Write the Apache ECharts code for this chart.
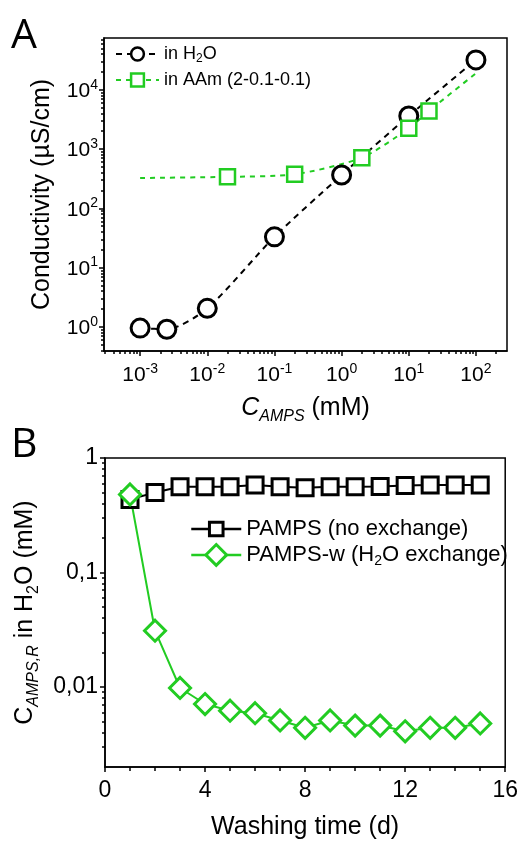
<!DOCTYPE html>
<html><head><meta charset="utf-8">
<script src="https://cdn.jsdelivr.net/npm/echarts@6/dist/echarts.min.js"></script>
<style>html,body{margin:0;padding:0;background:#fff}#c{width:521px;height:841px}</style>
</head><body><div id="c"></div>
<script>
// ---------- Panel A data ----------
const aH2OConc = [0.001, 0.0025, 0.01, 0.1, 1, 10, 100];
const aH2OCond = [0.95, 0.91, 2.05, 33, 365, 3620, 32000];
const aAAmConc = [0.02, 0.2, 2, 10, 20];
const aAAmCond = [340, 375, 716, 2240, 4400];
const aAAmFitStart = [0.001, 325];
const aAAmFitEnd = [100, 19000];
const aXTicks = [0.001, 0.01, 0.1, 1, 10, 100];
const aYTicks = [1, 10, 100, 1000, 10000];
const aXDecades = [0.0001, 0.001, 0.01, 0.1, 1, 10, 100];
const aYDecades = [0.1, 1, 10, 100, 1000, 10000];
// ---------- Panel B data ----------
const bDays = [1, 2, 3, 4, 5, 6, 7, 8, 9, 10, 11, 12, 13, 14, 15];
const bPAMPS = [0.435, 0.50, 0.56, 0.56, 0.56, 0.58, 0.56, 0.55, 0.56, 0.56, 0.565, 0.575, 0.58, 0.58, 0.58];
const bPAMPSw = [0.48, 0.031, 0.0098, 0.0071, 0.0062, 0.0059, 0.0051, 0.0044, 0.0051, 0.0046, 0.0046, 0.0041, 0.0044, 0.0044, 0.0048];
const bYTicks = [0.01, 0.1, 1];
const bYLabels = ['0,01', '0,1', '1'];
const bYDecades = [0.001, 0.01, 0.1];
const seriesNames = ['in H2O', 'in AAm (2-0.1-0.1)', 'PAMPS (no exchange)', 'PAMPS-w (H2O exchange)'];

const FONT = '"Liberation Sans", Arial, sans-serif';
const GREEN = '#22cc22';
const BLACK = '#000';

function minorLog(decades, lo, hi) {
  const out = [];
  decades.forEach(d => { for (let m = 2; m <= 9; m++) { const v = m * d; if (v > lo && v < hi) out.push(v); } });
  return out;
}
const aXMin = 2.9e-4, aXMax = 290, aYMin = 0.39, aYMax = 75000, bYMin = 0.002, bYMax = 1;

const powRich = {
  b: { fontSize: 21, fontFamily: FONT, color: BLACK, lineHeight: 24, verticalAlign: 'bottom' },
  s: { fontSize: 14, fontFamily: FONT, color: BLACK, lineHeight: 14, verticalAlign: 'top' }
};
function powLabel(v) { const e = Math.round(Math.log10(v)); return '{b|10}{s|' + e + '}'; }
function bYLabel(v) {
  for (let i = 0; i < bYTicks.length; i++) if (Math.abs(v / bYTicks[i] - 1) < 1e-6) return bYLabels[i];
  return '';
}
const tickLine = { color: BLACK, width: 1.5 };
const axisLine = { show: true, lineStyle: { color: BLACK, width: 1.5 } };

const titleRich = {
  n: { fontSize: 25, fontFamily: FONT, color: BLACK, lineHeight: 34 },
  i: { fontSize: 25, fontFamily: FONT, color: BLACK, fontStyle: 'italic', lineHeight: 34 },
  si: { fontSize: 16, fontFamily: FONT, color: BLACK, fontStyle: 'italic', lineHeight: 16, verticalAlign: 'bottom' },
  s: { fontSize: 16, fontFamily: FONT, color: BLACK, lineHeight: 16, verticalAlign: 'bottom' }
};

function legendFmt(name) {
  if (name.indexOf('H2O') >= 0) {
    const p = name.split('H2O');
    return '{n|' + p[0] + 'H}{s|2}{n|O' + p[1] + '}';
  }
  return '{n|' + name + '}';
}
function legendRich(fs) {
  return {
    n: { fontSize: fs, fontFamily: FONT, color: BLACK, lineHeight: fs + 4 },
    s: { fontSize: Math.round(fs * 0.65), fontFamily: FONT, color: BLACK, lineHeight: Math.round(fs * 0.65), verticalAlign: 'bottom' }
  };
}

const chart = echarts.init(document.getElementById('c'), null, { renderer: 'canvas' });
chart.setOption({
  animation: false,
  backgroundColor: '#fff',
  title: [
    { text: 'A', left: 6, top: 11, textStyle: { fontSize: 41, fontWeight: 'normal', fontFamily: '"Open Sans", sans-serif', color: BLACK } },
    { text: 'B', left: 6, top: 420, textStyle: { fontSize: 41, fontWeight: 'normal', fontFamily: '"Open Sans", sans-serif', color: BLACK } }
  ],
  grid: [
    { left: 104, top: 38, width: 403, height: 313, show: true, borderColor: BLACK, borderWidth: 1.5, backgroundColor: 'transparent' },
    { left: 105, top: 458, width: 402, height: 311, show: true, borderColor: BLACK, borderWidth: 1.5, backgroundColor: 'transparent' }
  ],
  legend: [
    { data: [seriesNames[0], seriesNames[1]], orient: 'vertical', left: 115, top: 45, padding: 0, itemWidth: 43, itemHeight: 16, itemGap: 6,
      selectedMode: false, formatter: legendFmt, textStyle: { rich: legendRich(18) }, itemStyle: { borderWidth: 2.5 } },
    { data: [seriesNames[2]], orient: 'vertical', left: 190, top: 518, padding: 0, itemWidth: 50, itemHeight: 17, itemGap: 0,
      selectedMode: false, formatter: legendFmt, textStyle: { rich: legendRich(22) }, itemStyle: { borderWidth: 3 }, lineStyle: { width: 2.5 } },
    { data: [seriesNames[3]], orient: 'vertical', left: 190, top: 543, padding: 0, itemWidth: 50, itemHeight: 26, itemGap: 0,
      selectedMode: false, formatter: legendFmt, textStyle: { rich: legendRich(22) }, itemStyle: { borderWidth: 3 }, lineStyle: { width: 2.5 } }
  ],
  xAxis: [
    { gridIndex: 0, type: 'log', min: aXMin, max: aXMax, position: 'bottom', axisLine: axisLine,
      axisTick: { show: true, customValues: aXTicks, length: 5, lineStyle: tickLine },
      axisLabel: { customValues: aXTicks, formatter: powLabel, rich: powRich, margin: 11 },
      splitLine: { show: false },
      name: '{i|C}{si|AMPS}{n| (mM)}', nameLocation: 'middle', nameGap: 40, nameTextStyle: { rich: titleRich } },
    { gridIndex: 0, type: 'log', min: aXMin, max: aXMax, position: 'bottom', axisLine: { show: false },
      axisTick: { show: true, customValues: minorLog(aXDecades, aXMin, aXMax), length: 3, lineStyle: tickLine },
      axisLabel: { show: false }, splitLine: { show: false } },
    { gridIndex: 1, type: 'value', min: 0, max: 16, interval: 4, position: 'bottom', axisLine: axisLine,
      axisTick: { show: true, length: 5, lineStyle: tickLine },
      minorTick: { show: true, splitNumber: 4, length: 4, lineStyle: tickLine },
      axisLabel: { fontSize: 23, fontFamily: FONT, color: BLACK, margin: 12 },
      splitLine: { show: false }, minorSplitLine: { show: false },
      name: 'Washing time (d)', nameLocation: 'middle', nameGap: 48,
      nameTextStyle: { fontSize: 25, fontFamily: FONT, color: BLACK } }
  ],
  yAxis: [
    { gridIndex: 0, type: 'log', min: aYMin, max: aYMax, position: 'left', axisLine: axisLine,
      axisTick: { show: true, customValues: aYTicks, length: 5, lineStyle: tickLine },
      axisLabel: { customValues: aYTicks, formatter: powLabel, rich: powRich, margin: 6 },
      splitLine: { show: false },
      name: 'Conductivity (\u00b5S/cm)', nameLocation: 'middle', nameGap: 49,
      nameTextStyle: { fontSize: 25, fontFamily: FONT, color: BLACK } },
    { gridIndex: 0, type: 'log', min: aYMin, max: aYMax, position: 'left', axisLine: { show: false },
      axisTick: { show: true, customValues: minorLog(aYDecades, aYMin, aYMax), length: 3, lineStyle: tickLine },
      axisLabel: { show: false }, splitLine: { show: false } },
    { gridIndex: 1, type: 'log', min: bYMin, max: bYMax, position: 'left', axisLine: axisLine,
      axisTick: { show: true, customValues: bYTicks, length: 5, lineStyle: tickLine },
      axisLabel: { customValues: bYTicks, formatter: bYLabel, fontSize: 23, fontFamily: FONT, color: BLACK, margin: 7 },
      splitLine: { show: false },
      name: '{n|C}{si|AMPS,R}{n| in H}{s|2}{n|O (mM)}', nameLocation: 'middle', nameGap: 63, nameTextStyle: { rich: titleRich } },
    { gridIndex: 1, type: 'log', min: bYMin, max: bYMax, position: 'left', axisLine: { show: false },
      axisTick: { show: true, customValues: minorLog(bYDecades, bYMin, bYMax), length: 3, lineStyle: tickLine },
      axisLabel: { show: false }, splitLine: { show: false } }
  ],
  series: [
    { type: 'line', name: seriesNames[0], xAxisIndex: 0, yAxisIndex: 0,
      data: aH2OConc.map((x, i) => [x, aH2OCond[i]]), smooth: 0.25,
      symbol: 'circle', symbolSize: 18, showAllSymbol: true,
      lineStyle: { color: BLACK, width: 2, type: [6, 5] },
      itemStyle: { color: '#fff', borderColor: BLACK, borderWidth: 3 } },
    { type: 'line', name: seriesNames[1], xAxisIndex: 0, yAxisIndex: 0,
      data: [{ value: aAAmFitStart, symbol: 'none' }]
        .concat(aAAmConc.map((x, i) => [x, aAAmCond[i]]))
        .concat([{ value: aAAmFitEnd, symbol: 'none' }]),
      smooth: 0.25, symbol: 'rect', symbolSize: 15, showAllSymbol: true,
      lineStyle: { color: GREEN, width: 2, type: [5, 5] },
      itemStyle: { color: '#fff', borderColor: GREEN, borderWidth: 2.5 } },
    { type: 'line', name: seriesNames[2], xAxisIndex: 2, yAxisIndex: 2,
      data: bDays.map((d, i) => [d, bPAMPS[i]]),
      symbol: 'rect', symbolSize: 16, showAllSymbol: true,
      lineStyle: { color: BLACK, width: 2 },
      itemStyle: { color: '#fff', borderColor: BLACK, borderWidth: 3 } },
    { type: 'line', name: seriesNames[3], xAxisIndex: 2, yAxisIndex: 2,
      data: bDays.map((d, i) => [d, bPAMPSw[i]]),
      symbol: 'diamond', symbolSize: 21, showAllSymbol: true,
      lineStyle: { color: GREEN, width: 2 },
      itemStyle: { color: '#fff', borderColor: GREEN, borderWidth: 3 } }
  ]
});
</script></body></html>
